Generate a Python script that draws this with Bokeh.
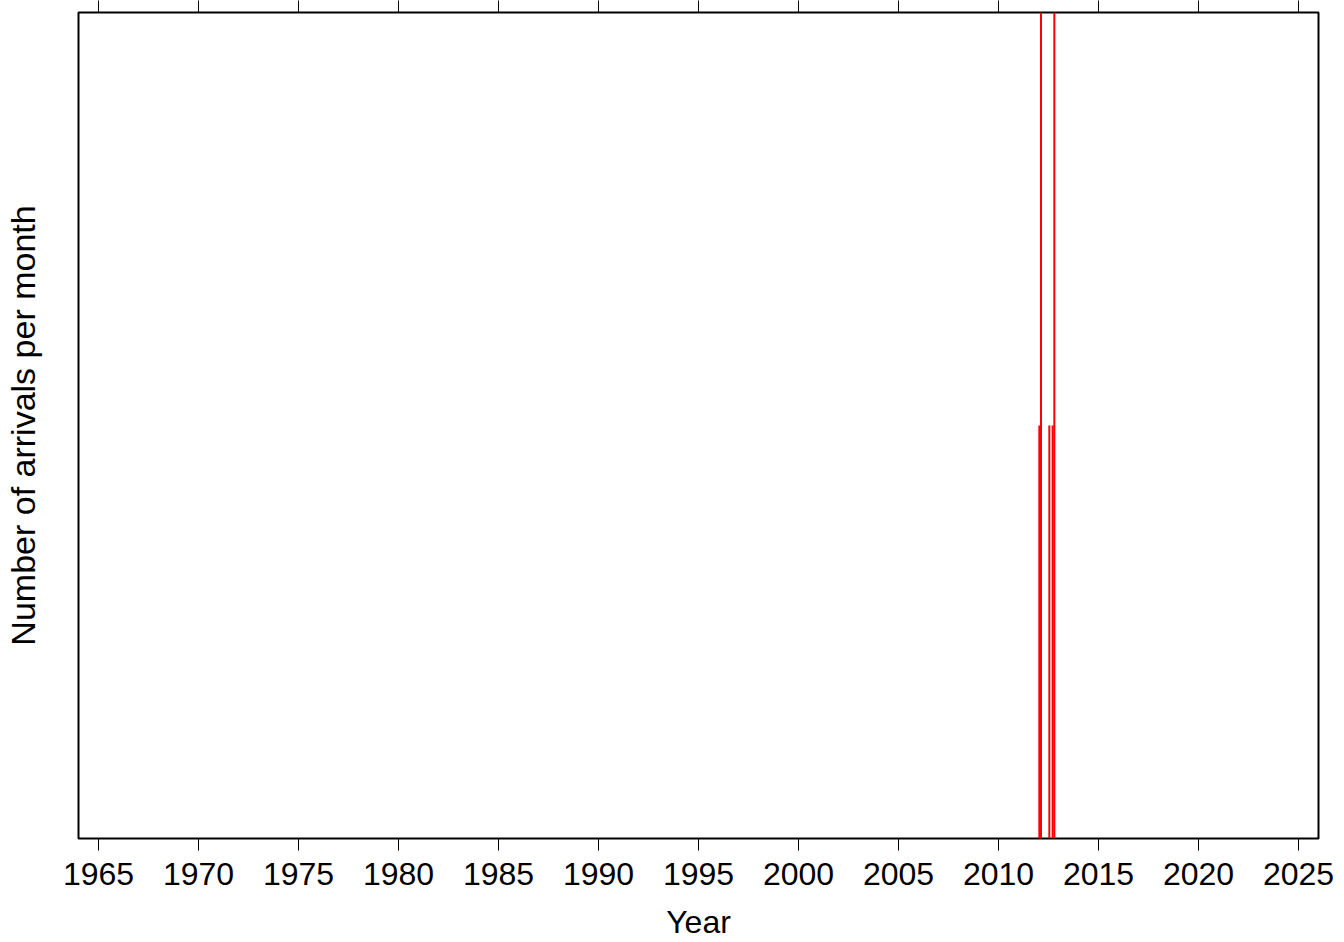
from bokeh.plotting import figure
from bokeh.models import Range1d, LinearAxis, FixedTicker
from bokeh.embed import file_html
from bokeh.resources import INLINE

# Data: monthly arrival counts (year, month, count)
years = [2012, 2012, 2012, 2012, 2012]
months = [1, 2, 7, 9, 10]
counts = [1, 2, 1, 1, 2]
x_ticks = [1965, 1970, 1975, 1980, 1985, 1990, 1995, 2000, 2005, 2010, 2015, 2020, 2025]

xs = [y + (m - 0.5) / 12.0 for y, m in zip(years, months)]

FONT = "Liberation Sans"

p = figure(width=1344, height=942, output_backend="svg", toolbar_location=None,
           x_range=Range1d(1964, 2026), y_range=Range1d(0, 2),
           x_axis_location=None, y_axis_location=None,
           min_border_left=78, min_border_right=26, min_border_top=12, min_border_bottom=104)
p.xgrid.visible = False
p.ygrid.visible = False
p.outline_line_color = "black"
p.outline_line_width = 2
p.background_fill_color = "white"
p.border_fill_color = "white"

p.segment(x0=xs, y0=[0] * len(xs), x1=xs, y1=counts, line_color="red", line_width=2)

ticker = FixedTicker(ticks=x_ticks)

xb = LinearAxis(ticker=ticker, axis_label="Year")
xb.axis_line_color = None
xb.major_tick_out = 12
xb.major_tick_in = 0
xb.major_tick_line_width = 1
xb.minor_tick_line_color = None
xb.major_label_text_font = FONT
xb.major_label_text_font_size = "32px"
xb.major_label_text_color = "black"
xb.major_label_standoff = 12
xb.axis_label_text_font = FONT
xb.axis_label_text_font_size = "32px"
xb.axis_label_text_font_style = "normal"
xb.axis_label_text_color = "black"
xb.axis_label_standoff = 16
p.add_layout(xb, "below")

xt = LinearAxis(ticker=ticker)
xt.axis_line_color = None
xt.major_tick_out = 12
xt.major_tick_in = 0
xt.minor_tick_line_color = None
xt.major_label_text_font_size = "0px"
xt.major_label_text_color = None
p.add_layout(xt, "above")

yl = LinearAxis(axis_label="Number of arrivals per month", ticker=FixedTicker(ticks=[]))
yl.axis_line_color = None
yl.major_tick_out = 0
yl.major_tick_in = 0
yl.major_tick_line_color = None
yl.minor_tick_line_color = None
yl.major_label_standoff = 0
yl.major_label_text_font_size = "0px"
yl.axis_label_text_font = FONT
yl.axis_label_text_font_size = "34px"
yl.axis_label_text_font_style = "normal"
yl.axis_label_text_color = "black"
yl.axis_label_standoff = 37
p.add_layout(yl, "left")

open("out.html", "w").write(file_html(p, INLINE))
